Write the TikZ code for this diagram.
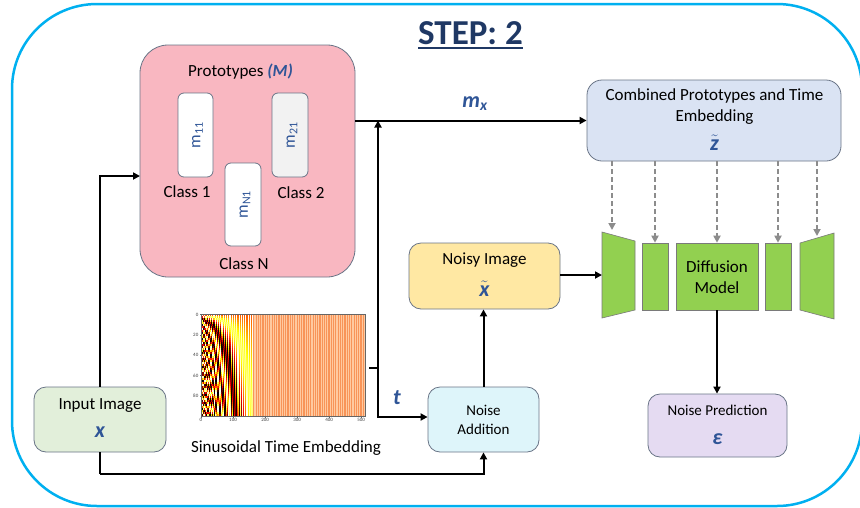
\documentclass[tikz,border=0pt]{standalone}
\usepackage{amsmath}
\usepackage{fontspec}
\setmainfont{Carlito}
\usetikzlibrary{arrows.meta}
\definecolor{mathc}{HTML}{2F5597}
\definecolor{titlec}{HTML}{1F3864}
\definecolor{outerc}{HTML}{00B0F0}
\definecolor{bordc}{HTML}{6A7587}
\definecolor{protoc}{HTML}{F9B7C1}
\definecolor{combc}{HTML}{DAE3F3}
\definecolor{noisyc}{HTML}{FFE8A3}
\definecolor{greenc}{HTML}{92D050}
\definecolor{npc}{HTML}{E5DBF2}
\definecolor{inpc}{HTML}{E2EFDA}
\definecolor{nac}{HTML}{DEF5FA}
\definecolor{dgray}{HTML}{8C8C8C}
\definecolor{mgrayc}{HTML}{F2F2F2}
\definecolor{blkb}{HTML}{7A7A7A}
\definecolor{stripeD}{RGB}{248,148,88}
\definecolor{stripeL}{RGB}{255,202,160}
\newcommand\fsA{\fontsize{17}{20}\selectfont}
\newcommand\fsB{\fontsize{15}{18}\selectfont}
\newcommand\fsM{\fontsize{22}{26}\selectfont\bfseries\itshape}
\newcommand\hotfill[5]{%
  \pgfmathsetmacro\hn{(#1+1)/2}%
  \pgfmathsetmacro\hr{min(1,\hn/0.365)}%
  \pgfmathsetmacro\hg{max(0,min(1,(\hn-0.365)/0.381))}%
  \pgfmathsetmacro\hb{max(0,min(1,(\hn-0.746)/0.254))}%
  \definecolor{hc}{rgb}{\hr,\hg,\hb}%
  \fill[hc] (#2,#3) rectangle ++(#4,#5);%
}
\begin{document}
\begin{tikzpicture}[x=1pt,y=-1pt,
  box/.style={draw=bordc,line width=0.8pt,inner sep=0pt},
  lab/.style={inner sep=0pt,font=\fsA,text height=11pt,text depth=0pt},
  labs/.style={inner sep=0pt,font=\fsB,text height=10pt,text depth=0pt},
  mlab/.style={inner sep=0pt,font=\fsM,text=mathc},
  arr/.style={line width=2pt,-{Triangle[length=7pt,width=7pt]}},
  ln/.style={line width=2pt},
  darr/.style={draw=dgray,line width=2pt,dash pattern=on 5pt off 3pt,-{Triangle[length=7pt,width=7pt]}},
  blk/.style={draw=blkb,fill=greenc,line width=0.6pt},
  tick/.style={inner sep=0pt,font=\fontsize{5}{6}\selectfont,text=black!75}]
\useasboundingbox (0,0) rectangle (860,507);
\fill[white] (0,0) rectangle (860,507);
% outer border
\draw[outerc,line width=2.5pt,rounded corners=85pt] (12,4) rectangle (862,506);
% title
\node[anchor=base,inner sep=0pt,text depth=0pt,font=\fontsize{35}{40}\selectfont\bfseries,text=titlec] (title) at (470.5,44) {STEP: 2};
\draw[titlec,line width=2pt] ([yshift=-4pt]title.base west) -- ([yshift=-4pt]title.base east);

% prototypes
\node[box,fill=protoc,rounded corners=28pt,minimum width=215pt,minimum height=232pt] (proto) at (247.5,161) {};
\node[lab] (protot) at (240.5,70.5) {Prototypes \textbf{\textit{\color{mathc}(M)}}};
\node[box,fill=white,rounded corners=6pt,minimum width=35pt,minimum height=84pt] (m11) at (195.5,135) {};
\node[box,fill=mgrayc,rounded corners=6pt,minimum width=36pt,minimum height=84pt] (m21) at (290,135) {};
\node[box,fill=white,rounded corners=6pt,minimum width=36pt,minimum height=83pt] (mN1) at (243,204.5) {};
\node[rotate=90,inner sep=0pt,font=\fsA,text=mathc] (m11t) at (197.5,135) {m\textsubscript{11}};
\node[rotate=90,inner sep=0pt,font=\fsA,text=mathc] (m21t) at (292,135) {m\textsubscript{21}};
\node[rotate=90,inner sep=0pt,font=\fsA,text=mathc] (mN1t) at (245,204.5) {m\textsubscript{N1}};
\node[lab] (c1) at (187,191.5) {Class 1};
\node[lab] (c2) at (301,193) {Class 2};
\node[lab] (cN) at (244,264) {Class N};

% combined
\node[box,fill=combc,rounded corners=15pt,minimum width=254pt,minimum height=81pt] (comb) at (714,120.5) {};
\node[lab] (combt1) at (714.5,94.5) {Combined Prototypes and Time};
\node[lab] (combt2) at (714.5,115.5) {Embedding};
\node[mlab] (zt) at (714.5,143) {$\tilde{\text{z}}$};

% noisy image
\node[box,fill=noisyc,rounded corners=12pt,minimum width=151pt,minimum height=66pt] (noisy) at (484.5,276) {};
\node[lab] (noisyt) at (484.5,259) {Noisy Image};
\node[mlab] (xt) at (484.5,289) {$\tilde{\text{x}}$};

% diffusion blocks
\draw[blk] (602,232) -- (635,241) -- (635,310) -- (602,318) -- cycle;
\node[blk,minimum width=26pt,minimum height=67pt,inner sep=0pt] (r2) at (655,276.5) {};
\node[blk,minimum width=82pt,minimum height=67pt,inner sep=0pt] (dm) at (717,276.5) {};
\node[lab] (dmt1) at (717,266.5) {Diffusion};
\node[lab] (dmt2) at (717,288) {Model};
\node[blk,minimum width=26pt,minimum height=67pt,inner sep=0pt] (r4) at (778,276.5) {};
\draw[blk] (800,243) -- (834,233) -- (834,319) -- (800,310) -- cycle;
\coordinate (t1w) at (602,275);
\coordinate (d1) at (612,230);
\coordinate (d5) at (817,236);

% noise prediction
\node[box,fill=npc,rounded corners=12pt,minimum width=139pt,minimum height=63pt] (np) at (717.5,425.5) {};
\node[labs] (npt) at (717.5,410) {Noise Prediction};
\node[mlab] (eps) at (717.5,439) {ε};

% input image
\node[box,fill=inpc,rounded corners=12pt,minimum width=132pt,minimum height=65pt] (inp) at (100,419.5) {};
\node[lab] (inpt) at (100,403.5) {Input Image};
\node[mlab] (xx) at (100,432.5) {x};

% noise addition
\node[box,fill=nac,rounded corners=12pt,minimum width=111pt,minimum height=65pt] (na) at (483.5,419.5) {};
\node[labs] (nat1) at (483.5,410.5) {Noise};
\node[labs] (nat2) at (483.5,429) {Addition};

% heatmap
\foreach \j in {0,...,163}{
  \pgfmathtruncatemacro\kk{round(3.122*\j)}
  \pgfmathsetmacro\ff{exp(-0.0302*\kk)}
  \pgfmathtruncatemacro\pp{mod(\kk,2)}
  \ifnum\j<52
    \foreach \i in {0,...,50}{
      \pgfmathsetmacro\ang{\i*1.98*\ff*57.2958}
      \ifnum\pp=0 \pgfmathsetmacro\hv{sin(\ang)}\else\pgfmathsetmacro\hv{cos(\ang)}\fi
      \hotfill{\hv}{201+\j}{314+2*\i}{1.15}{2.15}
    }
  \else
    \ifnum\pp=0 \fill[stripeD] (201+\j,314) rectangle ++(1.15,102.5);\else \fill[stripeL] (201+\j,314) rectangle ++(1.15,102.5);\fi
  \fi
}
\draw[black!60,line width=0.4pt] (201,314) rectangle (365,416.5);
\foreach \v [count=\n from 0] in {0,20,40,60,80}{
  \draw[black!60,line width=0.3pt] (201,314.5+20.3*\n) -- ++(-1.5,0);
  \node[tick,anchor=east] (yt\n) at (198.5,314.5+20.3*\n) {\v};
}
\foreach \v [count=\n from 0] in {0,100,200,300,400,500}{
  \draw[black!60,line width=0.3pt] (201+0.3203*\v,416.5) -- ++(0,1.5);
  \node[tick,anchor=north] (xt\n) at (201+0.3203*\v,418.5) {\v};
}
\node[lab] (sinlab) at (286,447) {Sinusoidal Time Embedding};

% labels
\node[mlab] (mx) at (475,104) {m\textsubscript{x}};
\node[mlab] (tl) at (397,398) {t};

% connectors
\coordinate (pin) at (140,176);
\draw[arr] (inp.north) |- (pin);
\coordinate (bl) at (100,474);
\draw[ln] (inp.south) -- (bl);
\draw[arr] (bl) -| (na.south);
\draw[arr] (proto.east |- comb.west) -- (comb.west);
\coordinate (tt) at (378,120.5);
\coordinate (tj) at (378,417);
\coordinate (hs) at (369,368);
\coordinate (hj) at (378,368);
\draw[ln] (hs) -- (hj);
\draw[line width=2pt,{Triangle[length=7pt,width=7pt]}-{Triangle[length=7pt,width=7pt]}] (tt) -- (tj) -- (na.west |- tj);
\draw[arr] (na.north) -- (na.north |- noisy.south);
\draw[arr] (noisy.east |- t1w) -- (t1w);
\draw[arr] (dm.south) -- (dm.south |- np.north);
% dashed
\draw[darr] (comb.south -| d1) -- (d1);
\draw[darr] (comb.south -| r2.north) -- (r2.north);
\draw[darr] (comb.south -| dm.north) -- (dm.north);
\draw[darr] (comb.south -| r4.north) -- (r4.north);
\draw[darr] (comb.south -| d5) -- (d5);
\end{tikzpicture}
\end{document}
